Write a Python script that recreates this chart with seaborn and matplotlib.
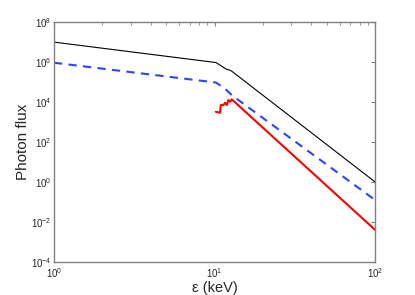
import numpy as np
import pandas as pd
import seaborn as sns
import matplotlib
matplotlib.use('Agg')
import matplotlib.pyplot as plt
from matplotlib.ticker import LogLocator, NullLocator

# data (energy in keV, photon flux)
black_e = [1.0, 10.2, 11.9, 12.4, 12.8, 100.0]
black_f = [1.0e7, 9.5e5, 4.3e5, 4.0e5, 3.5e5, 1.0]

blue_e = [1.0, 10.2, 10.8, 11.9, 12.8, 100.0]
blue_f = [9.3e5, 9.5e4, 7.0e4, 3.9e4, 2.2e4, 0.125]

red_e = [10.17, 10.82, 10.93, 11.34, 11.63, 11.91, 12.19, 12.49, 12.8, 100.0]
red_f = [3270, 2920, 7080, 7080, 9230, 7080, 12600, 10350, 13650, 4.0e-3]

sns.set_style('white')
plt.rcParams['font.family'] = ['Liberation Sans', 'DejaVu Sans']
plt.rcParams['mathtext.fontset'] = 'custom'
plt.rcParams['mathtext.rm'] = 'Liberation Sans'

fig = plt.figure(figsize=(4.15, 2.95), dpi=100)
ax = fig.add_axes([0.130, 0.112, 0.774, 0.813])

sns.lineplot(x=black_e, y=black_f, ax=ax, color='black', linewidth=0.8, sort=False)
sns.lineplot(x=blue_e, y=blue_f, ax=ax, color='#2a45ff', linewidth=1.5,
             linestyle=(0, (4, 3)), sort=False)
sns.lineplot(x=red_e, y=red_f, ax=ax, color='#ff0000', linewidth=1.5, sort=False)

ax.set_xscale('log')
ax.set_yscale('log')
ax.set_xlim(1, 100)
ax.set_ylim(1e-4, 1e8)
ax.set_yticks([1e-4, 1e-2, 1e0, 1e2, 1e4, 1e6, 1e8])
ax.yaxis.set_minor_locator(NullLocator())
ax.xaxis.set_minor_locator(LogLocator(base=10, subs=np.arange(2, 10)))

for s in ax.spines.values():
    s.set_color('#808080')
    s.set_linewidth(1.0)
ax.tick_params(which='both', direction='in', top=True, right=True,
               color='#808080', labelsize=7)
ax.tick_params(axis='y', pad=2)
ax.tick_params(axis='x', pad=3)
ax.tick_params(which='major', length=3)
ax.tick_params(which='minor', length=1.8)

ax.set_xlabel('ε (keV)', fontsize=10.5)
ax.set_ylabel('Photon flux', fontsize=11)
ax.xaxis.set_label_coords(0.5, -0.08)
ax.yaxis.set_label_coords(-0.075, 0.5)

fig.savefig('out.png', dpi=100)
